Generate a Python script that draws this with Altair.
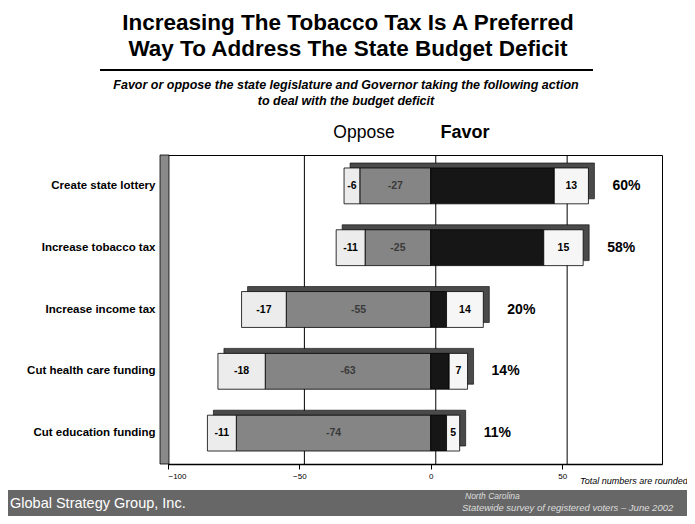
import altair as alt
import pandas as pd

items = ["Create state lottery", "Increase tobacco tax", "Increase income tax",
         "Cut health care funding", "Cut education funding"]
somewhat_oppose = [-6, -11, -17, -18, -11]
strongly_oppose = [-27, -25, -55, -63, -74]
strongly_favor = [47, 43, 6, 7, 6]
somewhat_favor = [13, 15, 14, 7, 5]
total_favor = [60, 58, 20, 14, 11]

segments = ["Somewhat oppose", "Strongly oppose", "Strongly favor", "Somewhat favor"]
seg_colors = ["#ececec", "#858585", "#161616", "#f6f6f6"]
axis_ticks = [-100, -50, 0, 50]
grid_vals = [-50, 0, 50]

rows = []
for i, it in enumerate(items):
    so, st, sf, wf = somewhat_oppose[i], strongly_oppose[i], strongly_favor[i], somewhat_favor[i]
    rows.append(dict(item=it, segment="Strongly oppose", start=st, end=0, label=str(st), mid=st / 2))
    rows.append(dict(item=it, segment="Somewhat oppose", start=st + so, end=st, label=str(so), mid=st + so / 2))
    rows.append(dict(item=it, segment="Strongly favor", start=0, end=sf, label="", mid=sf / 2))
    rows.append(dict(item=it, segment="Somewhat favor", start=sf, end=sf + wf, label=str(wf), mid=sf + wf / 2))
df = pd.DataFrame(rows)

tot = pd.DataFrame(dict(item=items,
                        lo=[a + b for a, b in zip(somewhat_oppose, strongly_oppose)],
                        hi=[a + b for a, b in zip(strongly_favor, somewhat_favor)],
                        pct=[f"{v}%" for v in total_favor],
                        fav=total_favor))

FONT = "Liberation Sans"
W, H = 494, 309

xscale = alt.Scale(domain=[-100, 88], nice=False, zero=False)
yscale = alt.Scale(domain=items, paddingInner=0.42, paddingOuter=0.21)

yaxis = alt.Axis(title=None, labelFont=FONT, labelFontWeight="bold", labelFontSize=11.5,
                 labelColor="black", ticks=False, domain=False, labelPadding=13, labelLimit=200)
xaxis = alt.Axis(title=None, values=axis_ticks, grid=False, labelFont=FONT, labelFontSize=8,
                 labelColor="black", tickColor="black", domainColor="black", tickSize=5,
                 domainWidth=1.5, labelPadding=3)

grid = alt.Chart(pd.DataFrame(dict(v=grid_vals))).mark_rule(color="black", strokeWidth=1, xOffset=5).encode(
    x=alt.X("v:Q", scale=xscale, axis=xaxis))

wall = alt.Chart(pd.DataFrame(dict(a=[0]))).mark_rect(fill="#8a8a8a", stroke="black", strokeWidth=0.8).encode(
    x=alt.value(-8), x2=alt.value(1), y=alt.value(0), y2=alt.value(H))

shadow = alt.Chart(tot).mark_bar(color="#4a4a4a", xOffset=6, x2Offset=6, yOffset=-5, y2Offset=-5,
                                 stroke="black", strokeWidth=0.6).encode(
    y=alt.Y("item:N", sort=items, scale=yscale, axis=yaxis),
    x=alt.X("lo:Q", scale=xscale),
    x2="hi:Q")

bars = alt.Chart(df).mark_bar(stroke="black", strokeWidth=0.8).encode(
    y=alt.Y("item:N", sort=items, scale=yscale, axis=yaxis),
    x=alt.X("start:Q", scale=xscale),
    x2="end:Q",
    color=alt.Color("segment:N", scale=alt.Scale(domain=segments, range=seg_colors), legend=None))

seg_text = alt.Chart(df).mark_text(font=FONT, fontWeight="bold", fontSize=10.5).encode(
    y=alt.Y("item:N", sort=items, scale=yscale),
    x=alt.X("mid:Q", scale=xscale),
    text="label:N",
    color=alt.condition(alt.datum.segment == "Strongly oppose", alt.value("#3a3a3a"), alt.value("black")))

pct_text = alt.Chart(tot).mark_text(font=FONT, fontWeight="bold", fontSize=14, align="left", dx=24).encode(
    y=alt.Y("item:N", sort=items, scale=yscale),
    x=alt.X("fav:Q", scale=xscale),
    text="pct:N")

def label(txt, x, y, size, weight="normal", style="normal", color="black", align="center"):
    return alt.Chart(pd.DataFrame(dict(t=[txt]))).mark_text(
        font=FONT, fontSize=size, fontWeight=weight, fontStyle=style, color=color, align=align,
        baseline="middle").encode(x=alt.value(x), y=alt.value(y), text="t:N")

title1 = label("Increasing The Tobacco Tax Is A Preferred", 180, -132, 22.5, "bold")
title2 = label("Way To Address The State Budget Deficit", 180, -106, 22.5, "bold")
underline = alt.Chart(pd.DataFrame(dict(a=[0]))).mark_rule(color="black", strokeWidth=2).encode(
    x=alt.value(-68), x2=alt.value(425), y=alt.value(-85))
sub1 = label("Favor or oppose the state legislature and Governor taking the following action",
             178, -70, 12.5, "bold", "italic")
sub2 = label("to deal with the budget deficit", 178, -54, 12.5, "bold", "italic")
opp = label("Oppose", 196, -22, 17.5)
fav = label("Favor", 297, -22, 18, "bold")
note = label("Total numbers are rounded", 412, 326, 9, "normal", "italic", align="left")

footer = alt.Chart(pd.DataFrame(dict(a=[0]))).mark_rect(fill="#676767").encode(
    x=alt.value(-160), x2=alt.value(W + 25), y=alt.value(335), y2=alt.value(H + 52))
gsg = label("Global Strategy Group, Inc.", -158, 349, 14.5, color="white", align="left")
nc = label("North Carolina", 297, 341, 8.5, style="italic", color="#dddddd", align="left")
sv = label("Statewide survey of registered voters \u2013 June 2002", 294, 353, 9.5, style="italic",
           color="#dddddd", align="left")

chart = alt.layer(grid, wall, shadow, bars, seg_text, pct_text, title1, title2, underline, sub1, sub2,
                  opp, fav, note, footer, gsg, nc, sv).properties(
    width=W, height=H,
    autosize=alt.AutoSizeParams(type="none"),
    padding={"left": 160, "top": 147, "right": 25, "bottom": 52},
    background="white",
).configure_view(stroke="black", strokeWidth=1)

chart.save("out.html", embed_options={"renderer": "svg", "actions": False})
